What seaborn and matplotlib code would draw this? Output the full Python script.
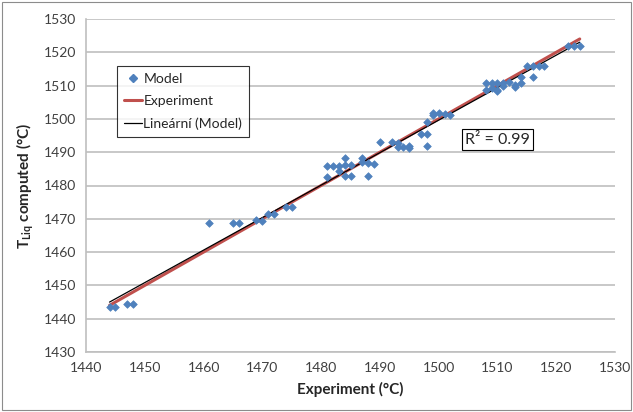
import numpy as np
import pandas as pd
import matplotlib
matplotlib.use("Agg")
import matplotlib.pyplot as plt
from matplotlib.patches import Rectangle
from matplotlib.lines import Line2D
import seaborn as sns

# data
experiment = [1444, 1445, 1447, 1448,
              1461, 1465, 1466, 1469, 1470, 1471, 1472, 1474, 1475,
              1481, 1482, 1483, 1483, 1484, 1484, 1485, 1487, 1487, 1488, 1489,
              1481, 1484, 1485, 1488,
              1490, 1492, 1493, 1493, 1494, 1495, 1495, 1498,
              1497, 1498, 1498, 1499, 1499, 1500, 1501, 1502,
              1508, 1509, 1510, 1511, 1508, 1509, 1510, 1510, 1511,
              1512, 1513, 1513, 1514, 1514,
              1515, 1516, 1516, 1517, 1518,
              1522, 1523, 1524]
model = [1443.5, 1443.5, 1444.3, 1444.3,
         1468.6, 1468.6, 1468.6, 1469.5, 1469.3, 1471.3, 1471.3, 1473.5, 1473.5,
         1485.8, 1485.8, 1485.8, 1484.5, 1486.2, 1488.3, 1486.2, 1488.3, 1487.2, 1486.7, 1486.5,
         1482.6, 1482.8, 1482.8, 1482.8,
         1493.0, 1493.0, 1492.7, 1491.6, 1491.6, 1491.8, 1491.4, 1492.0,
         1495.5, 1495.5, 1499.0, 1501.2, 1501.8, 1501.8, 1501.5, 1501.2,
         1510.9, 1510.9, 1510.9, 1510.9, 1508.6, 1509.3, 1508.7, 1508.3, 1509.9,
         1511.2, 1510.2, 1509.6, 1510.9, 1512.7,
         1515.8, 1515.8, 1512.6, 1515.8, 1516.0,
         1522.0, 1522.0, 1521.8]
x_ticks = list(range(1440, 1531, 10))
y_ticks = list(range(1430, 1531, 10))
r2_text = "R² = 0.99"

df = pd.DataFrame({"Experiment": experiment, "Model": model})

# colours (Excel style)
blue = "#4F81BD"
red = "#C0504D"
grid = "#BFBFBF"

sns.set_style("white")
plt.rcParams["font.family"] = ["Lato", "DejaVu Sans"]
plt.rcParams["mathtext.fontset"] = "custom"
plt.rcParams["mathtext.rm"] = "Lato"
plt.rcParams["mathtext.bf"] = "Lato:bold"

fig = plt.figure(figsize=(6.33, 4.12), dpi=100)
ax = fig.add_axes([86 / 633, 60 / 412, 529 / 633, 333 / 412])

# Experiment line (y = x)
sns.lineplot(data=df, x="Experiment", y="Experiment", color=red, linewidth=2.2,
             ax=ax, label="Experiment", zorder=2)
# linear trend line of the model
sns.regplot(data=df, x="Experiment", y="Model", scatter=False, ci=None, ax=ax,
            line_kws={"color": "black", "linewidth": 0.9, "zorder": 3})
# model points
sns.scatterplot(data=df, x="Experiment", y="Model", marker="D", s=15, color=blue,
                edgecolor=blue, linewidth=0.5, ax=ax, zorder=4)

ax.set_xlim(1440, 1530)
ax.set_ylim(1430, 1530)
ax.set_xticks(x_ticks)
ax.set_yticks(y_ticks)
ax.tick_params(length=0, labelsize=10, colors="#404040", pad=7)
ax.yaxis.grid(True, color=grid, linewidth=1.2)
ax.set_axisbelow(True)
for s in ["top", "right"]:
    ax.spines[s].set_visible(False)
for s in ["left", "bottom"]:
    ax.spines[s].set_color(grid)
    ax.spines[s].set_linewidth(1.2)

ax.set_xlabel("Experiment (°C)", fontsize=11, fontweight="bold", labelpad=6)
ax.set_ylabel(r"T$_{\mathbf{Liq}}$ computed (°C)", fontsize=11, fontweight="bold", labelpad=6)

# legend
handles = [
    Line2D([], [], marker="D", linestyle="none", color=blue, markersize=4),
    Line2D([], [], color=red, linewidth=2.2),
    Line2D([], [], color="black", linewidth=0.9),
]
leg = ax.legend(handles, ["Model", "Experiment", "Lineární (Model)"],
                loc="upper left", bbox_to_anchor=(0.0586, 0.859), borderaxespad=0,
                fancybox=False, frameon=True, fontsize=10, handlelength=1.3,
                handletextpad=0.1, labelspacing=0.75, borderpad=0.5)
leg.get_frame().set_edgecolor("black")
leg.get_frame().set_linewidth(0.8)
leg.set_zorder(6)

# R^2 box
ax.text(0.778, 0.638, r2_text, transform=ax.transAxes, fontsize=11.5, ha="center",
        va="center", zorder=6,
        bbox=dict(boxstyle="square,pad=0.2", facecolor="white", edgecolor="black", linewidth=0.8))

# outer chart frame
fig.patches.append(Rectangle((0.003, 0.004), 0.994, 0.992, transform=fig.transFigure,
                             fill=False, edgecolor="#8C8C8C", linewidth=0.8))

fig.savefig("out.png", dpi=100)
